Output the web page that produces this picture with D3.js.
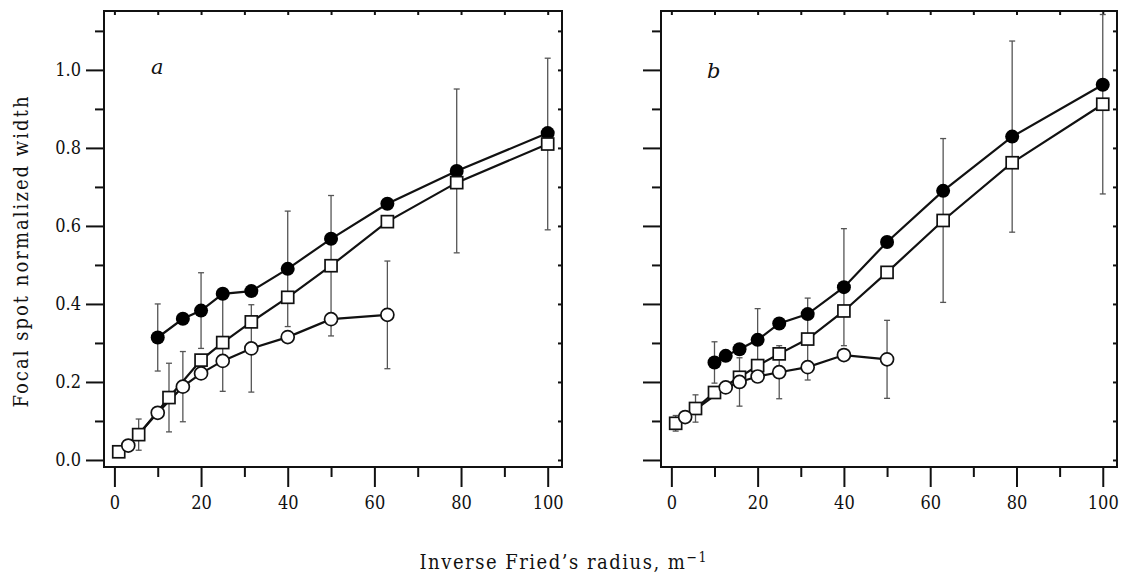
<!DOCTYPE html>
<html>
<head>
<meta charset="utf-8">
<script src="https://cdn.jsdelivr.net/npm/d3@7"></script>
<style>
  body { margin: 0; background: #fff; }
  svg { display: block; }
  .tick text { font-family: "DejaVu Serif Condensed", "DejaVu Serif", serif; font-size: 18px; fill: #111; }
  .tick line { stroke: #111; stroke-width: 2; }
</style>
</head>
<body>
<svg id="chart" width="1122" height="575"></svg>
<script>
// panel a: filled circles, open squares, open circles
const aFilledX = [10, 15.8, 20, 25, 31.6, 40, 50, 63, 79, 100];
const aFilledY = [0.314, 0.362, 0.383, 0.426, 0.433, 0.49, 0.567, 0.657, 0.741, 0.838];
const aFilledErr = [0.086, null, 0.097, null, null, 0.148, null, null, 0.21, null];

const aSquareX = [1, 5.6, 12.6, 20, 25, 31.6, 40, 50, 63, 79, 100];
const aSquareY = [0.021, 0.065, 0.16, 0.256, 0.301, 0.354, 0.417, 0.498, 0.611, 0.711, 0.81];
const aSquareErr = [null, 0.04, 0.088, null, 0.125, null, null, 0.18, null, null, 0.22];

const aCircleX = [3.2, 10, 15.8, 20, 25, 31.6, 40, 50, 63];
const aCircleY = [0.037, 0.121, 0.188, 0.222, 0.254, 0.286, 0.315, 0.361, 0.372];
const aCircleErr = [null, null, 0.09, null, null, 0.112, null, null, 0.138];

// panel b
const bFilledX = [10, 12.6, 15.8, 20, 25, 31.6, 40, 50, 63, 79, 100];
const bFilledY = [0.25, 0.267, 0.284, 0.308, 0.35, 0.374, 0.443, 0.559, 0.69, 0.829, 0.962];
const bFilledErr = [0.053, null, null, 0.08, null, null, 0.15, null, null, 0.245, null];

const bSquareX = [1, 5.6, 10, 15.8, 20, 25, 31.6, 40, 50, 63, 79, 100];
const bSquareY = [0.094, 0.132, 0.173, 0.212, 0.242, 0.272, 0.31, 0.382, 0.481, 0.614, 0.762, 0.912];
const bSquareErr = [0.02, 0.035, null, null, null, null, 0.105, null, null, 0.21, null, 0.23];

const bCircleX = [3.2, 12.6, 15.8, 20, 25, 31.6, 40, 50];
const bCircleY = [0.11, 0.186, 0.2, 0.214, 0.225, 0.238, 0.269, 0.258];
const bCircleErr = [null, null, 0.062, null, 0.068, null, null, 0.1];

const xMajorTicks = [0, 20, 40, 60, 80, 100];
const xMinorTicks = [10, 30, 50, 70, 90];
const yMajorTicks = [0.0, 0.2, 0.4, 0.6, 0.8, 1.0];
const yMinorTicks = [0.1, 0.3, 0.5, 0.7, 0.9, 1.1];

const panelLabels = ["a", "b"];
const yTitle = "Focal spot normalized width";
const xTitle = "Inverse Fried\u2019s radius, m";

function zipSeries(xs, ys, errs) {
  return xs.map((x, i) => ({x: x, y: ys[i], err: errs[i]}));
}

const panels = [
  {
    label: panelLabels[0], left: 104, right: 562, showYLabels: true,
    series: [
      {kind: "filled", pts: zipSeries(aFilledX, aFilledY, aFilledErr)},
      {kind: "square", pts: zipSeries(aSquareX, aSquareY, aSquareErr)},
      {kind: "circle", pts: zipSeries(aCircleX, aCircleY, aCircleErr)}
    ]
  },
  {
    label: panelLabels[1], left: 661, right: 1117, showYLabels: false,
    series: [
      {kind: "filled", pts: zipSeries(bFilledX, bFilledY, bFilledErr)},
      {kind: "square", pts: zipSeries(bSquareX, bSquareY, bSquareErr)},
      {kind: "circle", pts: zipSeries(bCircleX, bCircleY, bCircleErr)}
    ]
  }
];

const svg = d3.select("#chart");
const plotTop = 11, plotBottom = 467;

const y = d3.scaleLinear().domain([-0.018, 1.151]).range([plotBottom, plotTop]);

panels.forEach((p) => {
  const x = d3.scaleLinear().domain([-2.4, 103.3]).range([p.left, p.right]);
  const g = svg.append("g");

  // bottom axis, major + minor
  g.append("g")
    .attr("transform", "translate(0," + plotBottom + ")")
    .call(d3.axisBottom(x).tickValues(xMajorTicks).tickSize(20).tickSizeOuter(0).tickPadding(9).tickFormat(d3.format("d")))
    .call((s) => s.select(".domain").remove());
  g.append("g")
    .attr("transform", "translate(0," + plotBottom + ")")
    .call(d3.axisBottom(x).tickValues(xMinorTicks).tickSize(10).tickSizeOuter(0).tickFormat(""))
    .call((s) => s.select(".domain").remove());

  // left axis, major + minor
  g.append("g")
    .attr("transform", "translate(" + p.left + ",0)")
    .call(d3.axisLeft(y).tickValues(yMajorTicks).tickSize(18).tickSizeOuter(0).tickPadding(5)
      .tickFormat(p.showYLabels ? d3.format(".1f") : ""))
    .call((s) => s.select(".domain").remove());
  g.append("g")
    .attr("transform", "translate(" + p.left + ",0)")
    .call(d3.axisLeft(y).tickValues(yMinorTicks).tickSize(9).tickSizeOuter(0).tickFormat(""))
    .call((s) => s.select(".domain").remove());

  // small inward ticks on top and right
  g.append("g")
    .attr("transform", "translate(0," + plotTop + ")")
    .call(d3.axisTop(x).tickValues(d3.range(0, 101, 10)).tickSize(-4).tickSizeOuter(0).tickFormat(""))
    .call((s) => s.select(".domain").remove());
  g.append("g")
    .attr("transform", "translate(" + p.right + ",0)")
    .call(d3.axisRight(y).tickValues(d3.range(0, 1.15, 0.1)).tickSize(-4).tickSizeOuter(0).tickFormat(""))
    .call((s) => s.select(".domain").remove());

  // frame
  g.append("rect")
    .attr("x", p.left).attr("y", plotTop)
    .attr("width", p.right - p.left).attr("height", plotBottom - plotTop)
    .attr("fill", "none").attr("stroke", "#111").attr("stroke-width", 2);

  // error bars
  const errG = g.append("g").attr("stroke", "#555").attr("stroke-width", 1.3);
  p.series.forEach((s) => {
    s.pts.filter((d) => d.err !== null).forEach((d) => {
      const cx = x(d.x);
      const y1 = y(d.y + d.err), y2 = y(d.y - d.err);
      errG.append("line").attr("x1", cx).attr("x2", cx).attr("y1", y1).attr("y2", y2);
      errG.append("line").attr("x1", cx - 3).attr("x2", cx + 3).attr("y1", y1).attr("y2", y1);
      errG.append("line").attr("x1", cx - 3).attr("x2", cx + 3).attr("y1", y2).attr("y2", y2);
    });
  });

  // connecting lines
  const line = d3.line().x((d) => x(d.x)).y((d) => y(d.y));
  p.series.forEach((s) => {
    g.append("path")
      .attr("d", line(s.pts))
      .attr("fill", "none").attr("stroke", "#111").attr("stroke-width", 2.2);
  });

  // markers
  p.series.forEach((s) => {
    const mg = g.append("g");
    s.pts.forEach((d) => {
      const cx = x(d.x), cy = y(d.y);
      if (s.kind === "filled") {
        mg.append("circle").attr("cx", cx).attr("cy", cy).attr("r", 7).attr("fill", "#000");
      } else if (s.kind === "circle") {
        mg.append("circle").attr("cx", cx).attr("cy", cy).attr("r", 6.5)
          .attr("fill", "#fff").attr("stroke", "#111").attr("stroke-width", 1.7);
      } else {
        mg.append("rect").attr("x", cx - 6).attr("y", cy - 6).attr("width", 12).attr("height", 12)
          .attr("fill", "#fff").attr("stroke", "#111").attr("stroke-width", 1.7);
      }
    });
  });

  // panel letter
  g.append("text")
    .attr("x", p.left + (p.label === "a" ? 47 : 46))
    .attr("y", p.label === "a" ? 74 : 78)
    .attr("font-family", "\"DejaVu Serif\", serif")
    .attr("font-style", "italic")
    .attr("font-size", 21)
    .attr("fill", "#111")
    .text(p.label);
});

// axis titles
svg.append("text")
  .attr("transform", "translate(28,252) rotate(-90)")
  .attr("text-anchor", "middle")
  .attr("font-family", "\"DejaVu Serif Condensed\", \"DejaVu Serif\", serif")
  .attr("font-size", 20)
  .attr("fill", "#111")
  .attr("textLength", 311)
  .attr("lengthAdjust", "spacing")
  .text(yTitle);

const xt = svg.append("text")
  .attr("x", 563).attr("y", 569)
  .attr("text-anchor", "middle")
  .attr("font-family", "\"DejaVu Serif Condensed\", \"DejaVu Serif\", serif")
  .attr("font-size", 20)
  .attr("fill", "#111")
  .attr("textLength", 287)
  .attr("lengthAdjust", "spacing");
xt.append("tspan").text(xTitle);
xt.append("tspan").attr("dy", -7).attr("font-size", 14).text("\u22121");
</script>
</body>
</html>
